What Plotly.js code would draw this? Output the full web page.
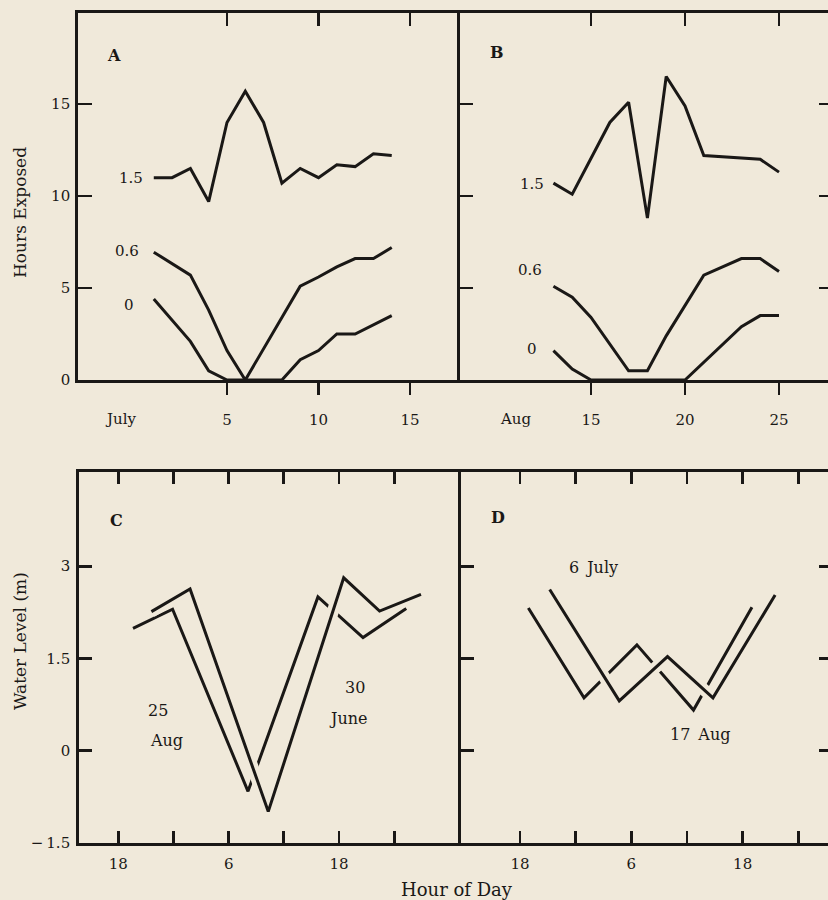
<!DOCTYPE html>
<html>
<head>
<meta charset="utf-8">
<script src="https://cdn.plot.ly/plotly-3.0.1.min.js"></script>
<style>
html,body{margin:0;padding:0;overflow:hidden;background:#f0e9da;}
#chart{width:834px;height:900px;}
</style>
</head>
<body>
<div id="chart"></div>
<script>
// ---------- data ----------
// Panel A: July, hours exposed at three levels
const daysA15 = [1,2,3,4,5,6,7,8,9,10,11,12,13,14];
const hrsA15  = [11.0,11.0,11.5,9.7,14.0,15.7,14.0,10.7,11.5,11.0,11.7,11.6,12.3,12.2];
const daysA06 = [1,3,4,5,6,9,10,11,12,13,14];
const hrsA06  = [6.95,5.7,3.8,1.6,0,5.1,5.6,6.15,6.6,6.6,7.2];
const daysA0  = [1,3,4,5,8,9,10,11,12,13,14];
const hrsA0   = [4.4,2.1,0.5,0,0,1.1,1.6,2.5,2.5,3.0,3.5];
// Panel B: August
const daysB15 = [13,14,16,17,18,19,20,21,24,25];
const hrsB15  = [10.7,10.1,14.0,15.1,8.8,16.5,14.9,12.2,12.0,11.3];
const daysB06 = [13,14,15,17,18,19,21,23,24,25];
const hrsB06  = [5.1,4.5,3.4,0.5,0.5,2.4,5.7,6.6,6.6,5.9];
const daysB0  = [13,14,15,20,23,24,25];
const hrsB0   = [1.6,0.6,0,0,2.9,3.5,3.5];
// Panel C: water level (m) vs hour
const hoursCAug25 = [19.6,23.9,32.1,39.7,44.6,49.3];
const levelCAug25 = [1.99,2.30,-0.66,2.50,1.84,2.31];
const hoursCJun30 = [21.6,25.8,34.3,42.5,46.4,50.9];
const levelCJun30 = [2.26,2.63,-0.99,2.81,2.27,2.54];
// Panel D
const hoursDAug17 = [18.9,24.9,30.6,36.7,43.0];
const levelDAug17 = [2.32,0.86,1.72,0.66,2.33];
const hoursDJul6  = [21.2,28.7,33.9,38.8,45.5];
const levelDJul6  = [2.62,0.81,1.53,0.86,2.53];
// tick labels
const dayTicksA = [5,10,15];
const dayTicksB = [15,20,25];
const hourTicks = [18,24,30,36,42,48];
const hourTickText = ['18','','6','','18',''];
const expTicks = [0,5,10,15];
const levelTicks = [-1.5,0,1.5,3];
const levelTickText = ['\u2212\u20091.5','0','1.5','3'];

// ---------- styling ----------
const W = 834, H = 900;
const fx = p => p / W;
const fy = p => 1 - p / H;
const INK = '#1a1816';
const BG = '#f0e9da';
const FONT = 'DejaVu Serif, Liberation Serif, serif';
const LW = 3;

function line(x, y, xa, ya, color, width, opacity) {
  return {x: x, y: y, xaxis: xa, yaxis: ya, type: 'scatter', mode: 'lines',
          opacity: opacity === undefined ? 1 : opacity,
          line: {color: color || INK, width: width || LW}, hoverinfo: 'skip', showlegend: false};
}

const traces = [
  line(daysA15, hrsA15, 'x', 'y'),
  line(daysA06, hrsA06, 'x', 'y'),
  line(daysA0, hrsA0, 'x', 'y'),
  line(daysA15, hrsA15, 'x5', 'y', BG, 1, 0),   // carrier for the top axis of A
  line(daysB15, hrsB15, 'x2', 'y2'),
  line(daysB06, hrsB06, 'x2', 'y2'),
  line(daysB0, hrsB0, 'x2', 'y2'),
  line(daysB15, hrsB15, 'x6', 'y2', BG, 1, 0),  // carrier for the top axis of B
  line(hoursCAug25, levelCAug25, 'x3', 'y3'),
  line(hoursCJun30, levelCJun30, 'x3', 'y3', BG, 12),
  line(hoursCJun30, levelCJun30, 'x3', 'y3'),
  line(hoursDAug17, levelDAug17, 'x4', 'y4'),
  line(hoursDJul6, levelDJul6, 'x4', 'y4', BG, 12),
  line(hoursDJul6, levelDJul6, 'x4', 'y4')
];

const tickFont = {family: FONT, size: 15, color: INK};
const base = {showgrid: false, zeroline: false, showline: true, linecolor: INK, linewidth: 2.8,
              tickcolor: INK, tickwidth: 2.8, tickfont: tickFont, fixedrange: true};

const topDom = [fy(380), fy(13)];
const botDom = [fy(843), fy(472)];
const expRange = [0, 19.95];
const lvlRange = [-1.5, 4.53];
const rangeA = [-3.14, 17.73];
const rangeB = [8.03, 27.82];
const rangeC = [13.73, 55.25];
const rangeD = [11.64, 51.63];

const layout = {
  width: W, height: H,
  margin: {l: 0, r: 0, t: 0, b: 0},
  paper_bgcolor: BG, plot_bgcolor: BG,
  showlegend: false,
  font: {family: FONT, color: INK},
  xaxis: Object.assign({}, base, {domain: [fx(78), fx(460)], anchor: 'y', range: rangeA,
    tickmode: 'array', tickvals: dayTicksA, ticktext: dayTicksA.map(String),
    ticks: 'outside', ticklen: 12, ticklabelstandoff: 12}),
  xaxis5: Object.assign({}, base, {overlaying: 'x', side: 'top', anchor: 'y', range: rangeA,
    tickmode: 'array', tickvals: dayTicksA, ticks: 'inside', ticklen: 13, showticklabels: false}),
  yaxis: Object.assign({}, base, {domain: topDom, anchor: 'x', range: expRange,
    tickmode: 'array', tickvals: expTicks, ticktext: expTicks.map(String),
    ticks: 'inside', ticklen: 14, ticklabelstandoff: 2}),
  xaxis2: Object.assign({}, base, {domain: [fx(460), fx(832)], anchor: 'y2', range: rangeB,
    tickmode: 'array', tickvals: dayTicksB, ticktext: dayTicksB.map(String),
    ticks: 'outside', ticklen: 12, ticklabelstandoff: 12}),
  xaxis6: Object.assign({}, base, {overlaying: 'x2', side: 'top', anchor: 'y2', range: rangeB,
    tickmode: 'array', tickvals: dayTicksB, ticks: 'inside', ticklen: 13, showticklabels: false}),
  yaxis2: Object.assign({}, base, {domain: topDom, anchor: 'x2', range: expRange,
    tickmode: 'array', tickvals: [5,10,15], ticks: 'inside', ticklen: 13,
    showticklabels: false, mirror: 'ticks'}),
  xaxis3: Object.assign({}, base, {domain: [fx(79), fx(461)], anchor: 'y3', range: rangeC,
    tickmode: 'array', tickvals: hourTicks, ticktext: hourTickText,
    ticks: 'inside', ticklen: 12, mirror: 'ticks', ticklabelstandoff: 5}),
  yaxis3: Object.assign({}, base, {domain: botDom, anchor: 'x3', range: lvlRange,
    tickmode: 'array', tickvals: levelTicks, ticktext: levelTickText,
    ticks: 'inside', ticklen: 13, ticklabelstandoff: 3}),
  xaxis4: Object.assign({}, base, {domain: [fx(461), fx(832)], anchor: 'y4', range: rangeD,
    tickmode: 'array', tickvals: hourTicks, ticktext: hourTickText,
    ticks: 'inside', ticklen: 12, mirror: 'ticks', ticklabelstandoff: 5}),
  yaxis4: Object.assign({}, base, {domain: botDom, anchor: 'x4', range: lvlRange,
    tickmode: 'array', tickvals: [0,1.5,3], ticks: 'inside', ticklen: 13,
    showticklabels: false, mirror: 'ticks'}),
  annotations: []
};

function ann(text, px, py, size, extra) {
  layout.annotations.push(Object.assign({
    text: text, xref: 'paper', yref: 'paper', x: fx(px), y: fy(py),
    xanchor: 'center', yanchor: 'middle', showarrow: false,
    font: {family: FONT, size: size || 15, color: INK}
  }, extra || {}));
}
// axis titles
ann('Hours Exposed', 20, 213, 17, {textangle: -90});
ann('Water Level (m)', 20, 641, 17, {textangle: -90});
ann('Hour of Day', 457, 889, 18);
// panel letters
ann('<b>A</b>', 114, 55, 16);
ann('<b>B</b>', 497, 53, 16);
ann('<b>C</b>', 116, 520, 16);
ann('<b>D</b>', 498, 517, 16);
// level labels
ann('1.5', 131, 178, 15); ann('0.6', 127, 251, 15); ann('0', 129, 305, 15);
ann('1.5', 532, 184, 15); ann('0.6', 530, 270, 15); ann('0', 532, 349, 15);
// month labels under top axes
ann('July', 120, 419, 15);
ann('Aug', 515, 419, 15);
// curve labels
ann('25', 158, 710, 16); ann('Aug', 166, 740, 16);
ann('30', 355, 687, 16); ann('June', 348, 718, 16);
ann('6\u2002July', 593, 567, 16);
ann('17\u2002Aug', 700, 734, 16);

Plotly.newPlot('chart', traces, layout, {staticPlot: true, responsive: false});
</script>
</body>
</html>
